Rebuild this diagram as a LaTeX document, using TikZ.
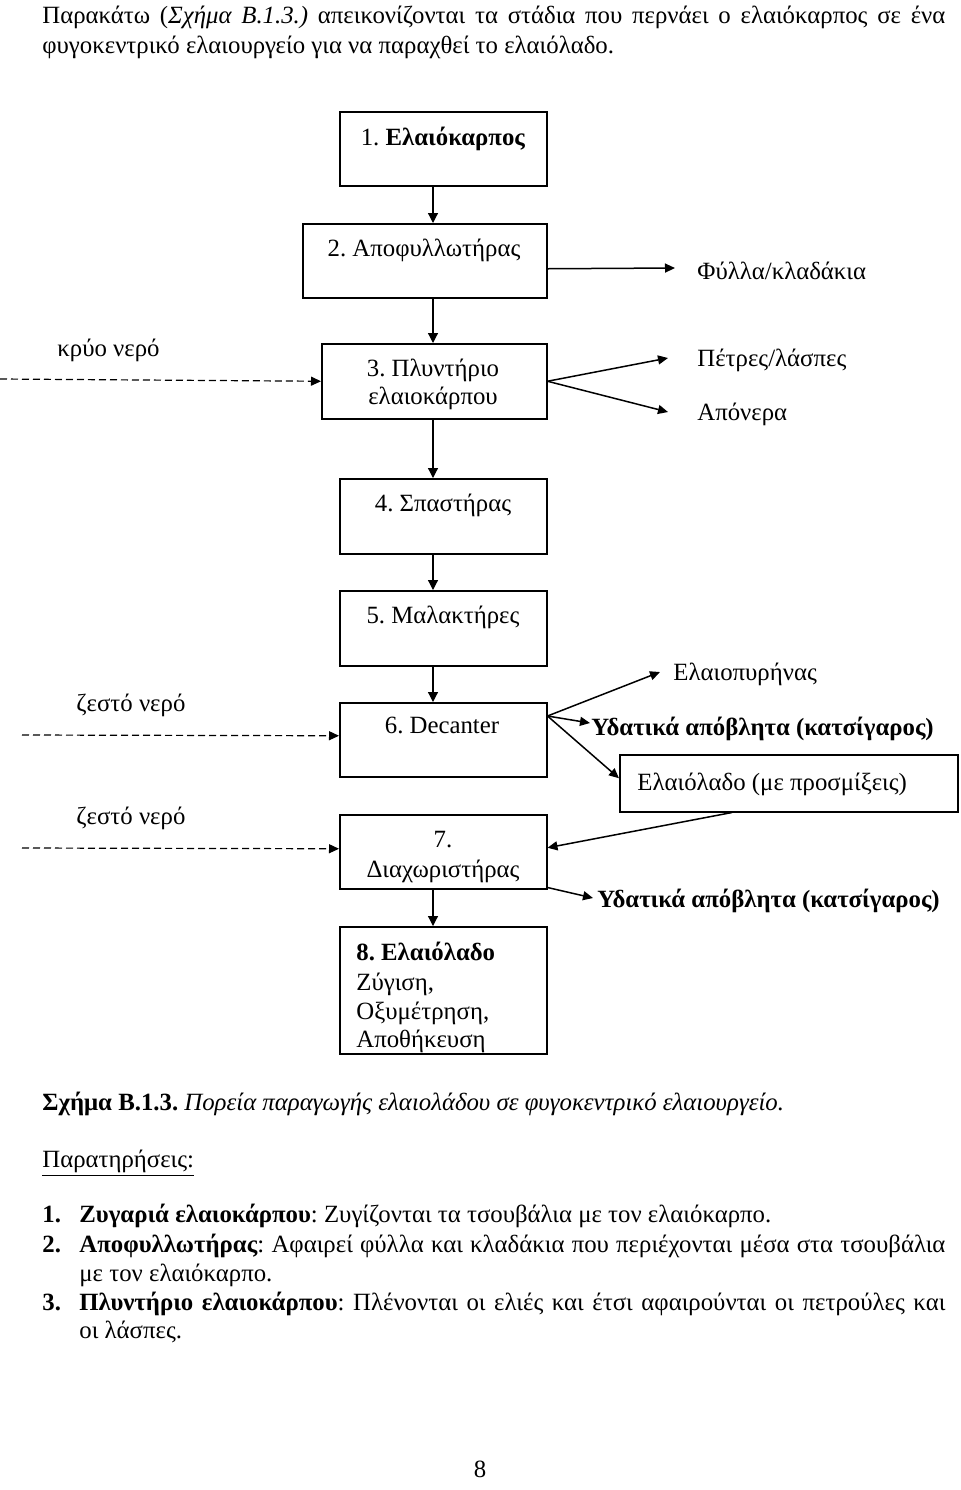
\documentclass[tikz,border=0pt]{standalone}
\usepackage{fontspec}
\setmainfont{Liberation Serif}
\usetikzlibrary{arrows.meta,calc}
\begin{document}
\frenchspacing
\begin{tikzpicture}[x=0.5pt,y=-0.5pt,
  box/.style={draw,line width=0.75pt,rectangle,inner sep=0pt,anchor=north west},
  txt/.style={inner sep=0pt,font=\fontsize{12.4}{14.5}\selectfont},
  lt/.style={txt,anchor=base west},
  ct/.style={txt,anchor=base},
  varr/.style={line width=0.6pt,-{Triangle[length=5pt,width=5pt]}},
  arr/.style={line width=0.75pt,-{Triangle[length=5pt,width=4.5pt]}},
  darr/.style={line width=0.6pt,dash pattern=on 3.5pt off 2pt,-{Triangle[length=5pt,width=4.5pt]}}]
\useasboundingbox (0,0) rectangle (960,1490);

% header
\node[lt] (h1) at (42,23) {\makebox[451.5pt][s]{Παρακάτω (\textit{Σχήμα Β.1.3.)\/} απεικονίζονται τα στάδια που περνάει ο ελαιόκαρπος σε ένα}};
\node[lt] (h2) at (42,53) {φυγοκεντρικό ελαιουργείο για να παραχθεί το ελαιόλαδο.};

% boxes
\node[box,minimum width=103.5pt,minimum height=37pt] (b1) at (339,111) {};
\node[box,minimum width=122pt,minimum height=37pt] (b2) at (302,223) {};
\node[box,minimum width=112.5pt,minimum height=37.5pt] (b3) at (321,343) {};
\node[box,minimum width=103.5pt,minimum height=37.5pt] (b4) at (339,478) {};
\node[box,minimum width=103.5pt,minimum height=37.5pt] (b5) at (339,590) {};
\node[box,minimum width=103.5pt,minimum height=37pt] (b6) at (339,702) {};
\node[box,minimum width=103.5pt,minimum height=37pt] (b7) at (339,814) {};
\node[box,minimum width=103.5pt,minimum height=63.5pt] (b8) at (339,926) {};
\node[box,minimum width=169pt,minimum height=28.5pt] (oil) at (619,754) {};

% box texts
\node[ct] (t1) at (443,145) {1. \textbf{Ελαιόκαρπος}};
\node[ct] (t2) at (424,256) {2. Αποφυλλωτήρας};
\node[ct] (t3a) at (433,376) {3. Πλυντήριο};
\node[ct] (t3b) at (433,404) {ελαιοκάρπου};
\node[ct] (t4) at (443,511) {4. Σπαστήρας};
\node[ct] (t5) at (443,623) {5. Μαλακτήρες};
\node[ct] (t6) at (442,733) {6. Decanter};
\node[ct] (t7a) at (443,847) {7.};
\node[ct] (t7b) at (443,877) {Διαχωριστήρας};
\node[lt] (t8a) at (356,960) {\textbf{8. Ελαιόλαδο}};
\node[lt] (t8b) at (356,990) {Ζύγιση,};
\node[lt] (t8c) at (356,1019) {Οξυμέτρηση,};
\node[lt] (t8d) at (356,1047) {Αποθήκευση};
\node[lt] (toil) at (637,790) {Ελαιόλαδο (με προσμίξεις)};

% side texts
\node[lt] (fyl) at (697,279) {Φύλλα/κλαδάκια};
\node[lt] (pet) at (697,366) {Πέτρες/λάσπες};
\node[lt] (apo) at (697,420) {Απόνερα};
\node[lt] (ela) at (673,680) {Ελαιοπυρήνας};
\node[lt] (yd1) at (591,735) {\textbf{Υδατικά απόβλητα (κατσίγαρος)}};
\node[lt] (yd2) at (597,907) {\textbf{Υδατικά απόβλητα (κατσίγαρος)}};
\node[lt] (kry) at (57,356) {κρύο νερό};
\node[lt] (zes1) at (76,711) {ζεστό νερό};
\node[lt] (zes2) at (76,824) {ζεστό νερό};

% coordinates for free ends
\coordinate (ax) at (433,0);
\coordinate (pF) at (675,268);
\coordinate (pP) at (668,358);
\coordinate (pA) at (668,412);
\coordinate (pE) at (660,672);
\coordinate (pY1) at (590,723);
\coordinate (pY2) at (593,898);
\coordinate (dK) at (0,379);
\coordinate (dZ1) at (22,735);
\coordinate (dZ2) at (22,848);

% vertical arrows
\draw[varr] (b1.south -| ax) -- (b2.north -| ax);
\draw[varr] (b2.south -| ax) -- (b3.north -| ax);
\draw[varr] (b3.south -| ax) -- (b4.north -| ax);
\draw[varr] (b4.south -| ax) -- (b5.north -| ax);
\draw[varr] (b5.south -| ax) -- (b6.north -| ax);
\draw[varr] (b7.south -| ax) -- (b8.north -| ax);

% side arrows
\draw[arr] ($(b2.east)+(0,8)$) -- (pF);
\draw[arr] (b3.east) -- (pP);
\draw[arr] (b3.east) -- (pA);
\draw[arr] ($(b6.north east)+(0,14)$) -- (pE);
\draw[arr] ($(b6.north east)+(0,14)$) -- (pY1);
\draw[arr] ($(b6.north east)+(0,14)$) -- ($(oil.west)+(0,-5)$);
\draw[arr] ($(oil.south west)+(113,0)$) -- ($(b7.east)+(0,-4)$);
\draw[arr] ($(b7.south east)+(0,-2)$) -- (pY2);

% dashed inputs
\draw[darr] (dK) -- (b3.west);
\draw[darr] (dZ1) -- ($(b6.west)+(0,-4)$);
\draw[darr] (dZ2) -- ($(b7.west)+(0,-3)$);

% caption and notes
\node[lt] (cap) at (42,1110) {\textbf{Σχήμα Β.1.3.} \textit{Πορεία παραγωγής ελαιολάδου σε φυγοκεντρικό ελαιουργείο.}};
\node[lt] (par) at (42,1167) {\underline{Παρατηρήσεις:}};
\node[lt] (n1) at (42,1222) {\textbf{1.}};
\node[lt] (l1) at (79,1222) {\textbf{Ζυγαριά ελαιοκάρπου}: Ζυγίζονται τα τσουβάλια με τον ελαιόκαρπο.};
\node[lt] (n2) at (42,1252) {\textbf{2.}};
\node[lt] (l2) at (79,1252) {\makebox[433pt][s]{\textbf{Αποφυλλωτήρας}: Αφαιρεί φύλλα και κλαδάκια που περιέχονται μέσα στα τσουβάλια}};
\node[lt] (l2b) at (79,1281) {με τον ελαιόκαρπο.};
\node[lt] (n3) at (42,1310) {\textbf{3.}};
\node[lt] (l3) at (79,1310) {\makebox[433pt][s]{\textbf{Πλυντήριο ελαιοκάρπου}: Πλένονται οι ελιές και έτσι αφαιρούνται οι πετρούλες και}};
\node[lt] (l3b) at (79,1338) {οι λάσπες.};
\node[ct] (pg) at (480,1477) {8};
\end{tikzpicture}
\end{document}
